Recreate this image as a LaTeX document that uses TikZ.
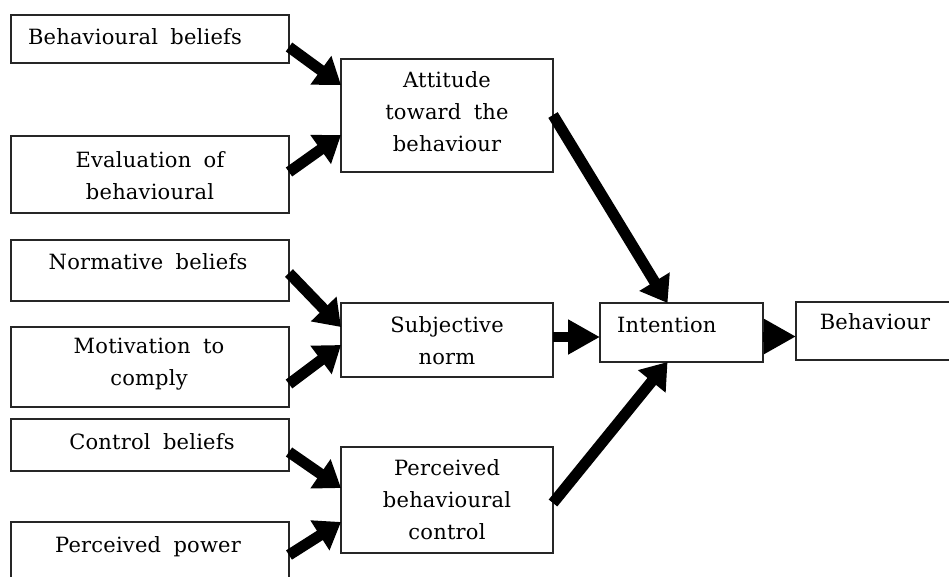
\documentclass[tikz,border=0pt]{standalone}
\usepackage{fontspec}
\setmainfont{DejaVu Serif}[LetterSpace=1,WordSpace=1.8]
\usetikzlibrary{arrows.meta,calc}

\tikzset{
  box/.style={draw=black!85, line width=1.3pt, fill=white, anchor=north west,
              inner sep=0pt, outer sep=0pt},
  lbl/.style={align=center, inner sep=0pt, font=\fontsize{21}{32}\selectfont},
  fat/.style={line width=11pt, -{Triangle[length=25pt,width=34pt]}},
  fatflat/.style={line width=10pt, -{Triangle[length=32pt,width=33pt]}},
}

% box helper: name, x1, y1, x2, y2 (y grows downward)
\newcommand{\mkbox}[5]{%
  \node[box, minimum width={#4-#2}, minimum height={#5-#3}] (#1) at (#2,#3) {};}

\begin{document}
\begin{tikzpicture}[x=1pt, y=-1pt]
\clip (0,0) rectangle (949,576);
\fill[white] (0,0) rectangle (949,576);

% left column: belief components
\mkbox{bb}{11}{15}{289}{63}
\mkbox{ev}{11}{136}{289}{213}
\mkbox{nb}{11}{240}{289}{301}
\mkbox{mc}{11}{327}{289}{407}
\mkbox{cb}{11}{419}{289}{471}
\mkbox{pp}{11}{522}{289}{600}

% middle column: determinants
\mkbox{att}{341}{59}{553}{172}
\mkbox{sn}{341}{303}{553}{377}
\mkbox{pbc}{341}{447}{553}{553}

% right: intention and behaviour
\mkbox{int}{600}{303}{763}{362}
\mkbox{beh}{796}{302}{970}{360}

% labels
\node[lbl] (tbb) at (135,37) {Behavioural  beliefs};
\node[lbl] (tev) at (150,176) {Evaluation  of\\behavioural};
\node[lbl] (tnb) at (148,262) {Normative  beliefs};
\node[lbl] (tmc) at (149,364) {Motivation  to\\comply};
\node[lbl] (tcb) at (152,442) {Control  beliefs};
\node[lbl] (tpp) at (148,547) {Perceived  power};
\node[lbl] (tatt) at (447,112) {Attitude\\toward the\\behaviour};
\node[lbl] (tsn) at (447,341) {Subjective\\norm};
\node[lbl] (tpbc) at (447,500) {Perceived\\behavioural\\control};
\node[lbl, anchor=west] (tint) at (617,325) {Intention};
\node[lbl] (tbeh) at (875,322) {Behaviour};

% connector end points
\coordinate (snout) at ($(sn.east)+(0,-3)$);
\coordinate (intin) at (snout -| int.west);
\coordinate (intout) at ($(int.east)+(0,4)$);
\coordinate (behin) at (intout -| beh.west);

% connectors
\draw[fat] ($(bb.north east)+(0,32)$) -- ($(att.north west)+(0,26)$);
\draw[fat] ($(ev.north east)+(0,36)$) -- ($(att.north west)+(0,76)$);
\draw[fat] ($(nb.north east)+(0,33)$) -- ($(sn.north west)+(0,24)$);
\draw[fat] ($(mc.north east)+(0,57)$) -- ($(sn.north west)+(0,42)$);
\draw[fat] ($(cb.north east)+(0,33)$) -- ($(pbc.north west)+(0,41)$);
\draw[fat] ($(pp.north east)+(0,33)$) -- ($(pbc.north west)+(0,75)$);
\draw[fat] ($(att.north east)+(0,56)$) -- ($(int.north)+(-14,0)$);
\draw[fat] ($(pbc.north east)+(0,56)$) -- ($(int.south)+(-14,0)$);
\draw[fatflat] (snout) -- (intin);
\draw[fatflat] (intout) -- (behin);
\end{tikzpicture}
\end{document}
